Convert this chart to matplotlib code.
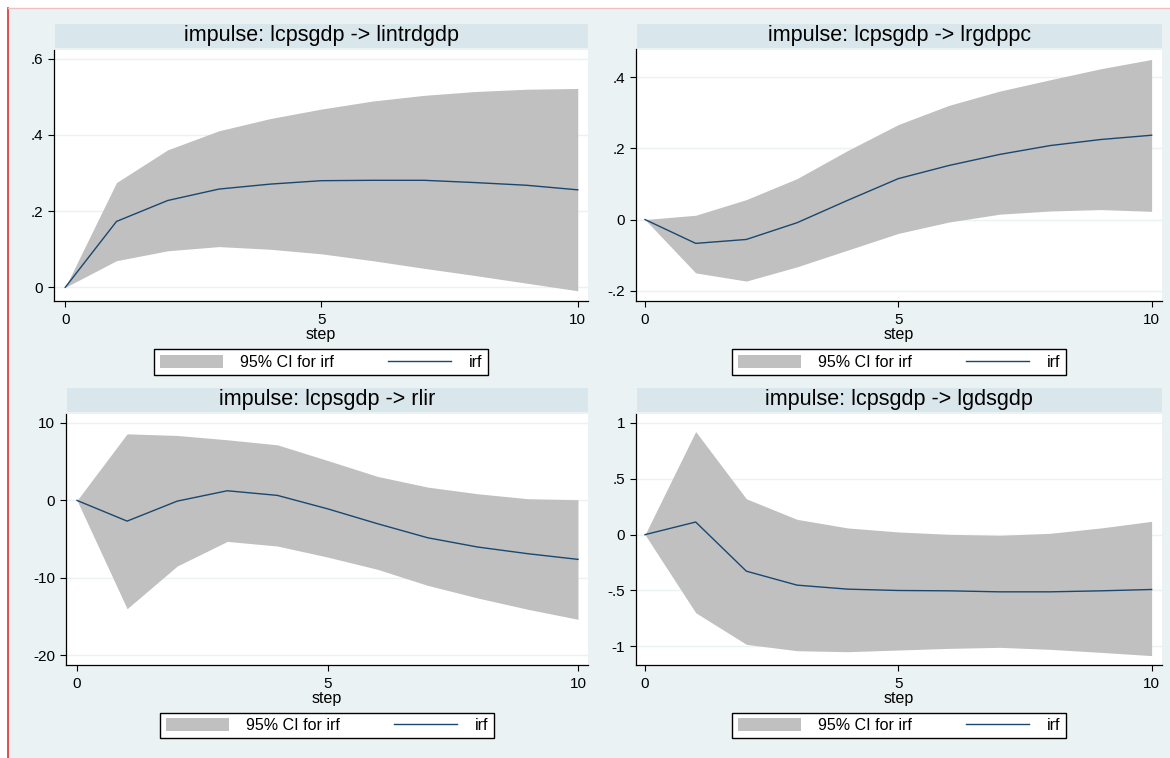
import matplotlib
matplotlib.use("Agg")
import matplotlib.pyplot as plt
from matplotlib.patches import Rectangle, Patch
from matplotlib.lines import Line2D
import matplotlib.ticker as mticker

plt.rcParams['font.family'] = ['Liberation Sans', 'DejaVu Sans']

# ---------------- data ----------------
steps = [0, 1, 2, 3, 4, 5, 6, 7, 8, 9, 10]

titles = [
    "impulse: lcpsgdp -> lintrdgdp",
    "impulse: lcpsgdp -> lrgdppc",
    "impulse: lcpsgdp -> rlir",
    "impulse: lcpsgdp -> lgdsgdp",
]

irf_lintrdgdp = [0, 0.173, 0.228, 0.258, 0.271, 0.280, 0.281, 0.281, 0.275, 0.268, 0.256]
lo_lintrdgdp = [0, 0.070, 0.096, 0.107, 0.100, 0.088, 0.070, 0.050, 0.031, 0.011, -0.009]
hi_lintrdgdp = [0, 0.275, 0.361, 0.411, 0.443, 0.468, 0.489, 0.504, 0.514, 0.520, 0.522]

irf_lrgdppc = [0, -0.067, -0.056, -0.009, 0.054, 0.115, 0.152, 0.183, 0.208, 0.225, 0.237]
lo_lrgdppc = [0, -0.150, -0.173, -0.133, -0.086, -0.039, -0.007, 0.015, 0.024, 0.028, 0.023]
hi_lrgdppc = [0, 0.012, 0.056, 0.115, 0.194, 0.267, 0.321, 0.361, 0.393, 0.424, 0.450]

irf_rlir = [0, -2.67, -0.09, 1.25, 0.65, -1.08, -3.01, -4.82, -6.02, -6.88, -7.61]
lo_rlir = [0, -13.98, -8.47, -5.29, -5.89, -7.31, -8.90, -10.97, -12.60, -14.06, -15.35]
hi_rlir = [0, 8.60, 8.39, 7.83, 7.18, 5.16, 3.10, 1.72, 0.86, 0.22, 0.09]

irf_lgdsgdp = [0, 0.113, -0.327, -0.452, -0.488, -0.500, -0.503, -0.512, -0.512, -0.503, -0.491]
lo_lgdsgdp = [0, -0.699, -0.982, -1.039, -1.048, -1.033, -1.018, -1.009, -1.027, -1.054, -1.083]
hi_lgdsgdp = [0, 0.923, 0.321, 0.137, 0.060, 0.024, 0.003, -0.006, 0.012, 0.060, 0.119]

xticks = [0, 5, 10]
yticks_lintrdgdp = [0, 0.2, 0.4, 0.6]
yticks_lrgdppc = [-0.2, 0, 0.2, 0.4]
yticks_rlir = [-20, -10, 0, 10]
yticks_lgdsgdp = [-1, -0.5, 0, 0.5, 1]

legend_labels = ["95% CI for irf", "irf"]
xlabel = "step"

# ---------------- style / layout ----------------
W, H = 1170, 758
BG = '#EAF2F3'
STRIP = '#D9E6EB'
CI = '#C0C0C0'
LINE = '#1A476F'

fig = plt.figure(figsize=(W / 100, H / 100), dpi=100)
fig.patch.set_facecolor('white')


def fx(px):
    return px / W


def fy(py):
    return 1 - py / H


fig.add_artist(Rectangle((fx(7.5), 0), 1 - fx(7.5), fy(7.5), transform=fig.transFigure,
                         facecolor=BG, edgecolor='none', zorder=-10))
fig.add_artist(Line2D([fx(7.5), fx(7.5)], [0, fy(7.5)], transform=fig.transFigure,
                      color='#E03030', lw=1.2, zorder=-9))
fig.add_artist(Line2D([fx(7.5), 1], [fy(7.5), fy(7.5)], transform=fig.transFigure,
                      color='#F2BFBF', lw=1.0, zorder=-9))


def stata_fmt(v, pos=None):
    v = round(v, 6)
    if abs(v) < 1e-9:
        return "0"
    s = ("%g" % v)
    if s.startswith("0."):
        s = s[1:]
    elif s.startswith("-0."):
        s = "-" + s[2:]
    return s


panels = [
    dict(box=(54, 50, 588, 300.7), strip=(55, 24, 588, 48), xlim=(-0.219, 10.2), ylim=(-0.035, 0.623),
         irf=irf_lintrdgdp, lo=lo_lintrdgdp, hi=hi_lintrdgdp, yt=yticks_lintrdgdp, title=titles[0]),
    dict(box=(636, 49.5, 1162, 301), strip=(636.5, 24, 1162, 48), xlim=(-0.178, 10.205), ylim=(-0.229, 0.478),
         irf=irf_lrgdppc, lo=lo_lrgdppc, hi=hi_lrgdppc, yt=yticks_lrgdppc, title=titles[1]),
    dict(box=(66, 414, 588, 665), strip=(66.5, 388, 588, 412), xlim=(-0.22, 10.2), ylim=(-21.25, 11.16),
         irf=irf_rlir, lo=lo_rlir, hi=hi_rlir, yt=yticks_rlir, title=titles[2]),
    dict(box=(636, 414, 1162, 665), strip=(636.5, 388, 1162, 412), xlim=(-0.178, 10.205), ylim=(-1.167, 1.08),
         irf=irf_lgdsgdp, lo=lo_lgdsgdp, hi=hi_lgdsgdp, yt=yticks_lgdsgdp, title=titles[3]),
]

legend_tops = [349.3, 349.3, 712.5, 712.5]

for p, ltop in zip(panels, legend_tops):
    l, t, r, b = p['box']
    ax = fig.add_axes([fx(l), fy(b), (r - l) / W, (b - t) / H])
    ax.set_facecolor('white')
    ax.fill_between(steps, p['lo'], p['hi'], color=CI, linewidth=0, zorder=2)
    ax.plot(steps, p['irf'], color=LINE, lw=1.0, zorder=3)
    ax.set_xlim(*p['xlim'])
    ax.set_ylim(*p['ylim'])
    ax.set_xticks(xticks)
    ax.set_yticks(p['yt'])
    ax.yaxis.set_major_formatter(mticker.FuncFormatter(stata_fmt))
    ax.grid(axis='y', color=BG, lw=1.0, zorder=0)
    ax.set_axisbelow(True)
    for s in ('top', 'right'):
        ax.spines[s].set_visible(False)
    for s in ('left', 'bottom'):
        ax.spines[s].set_color('black')
        ax.spines[s].set_linewidth(0.9)
    ax.tick_params(axis='both', direction='out', length=4.3, width=0.8, labelsize=11,
                   colors='black', pad=3.5)
    ax.tick_params(axis='x', pad=4.5)
    ax.set_xlabel(xlabel, fontsize=11.5, labelpad=0)

    # title strip
    sl, st, sr, sb = p['strip']
    fig.add_artist(Rectangle((fx(sl), fy(sb)), (sr - sl) / W, (sb - st) / H,
                             transform=fig.transFigure, facecolor=STRIP, edgecolor='none', zorder=-5))
    fig.text(fx((sl + sr) / 2), fy((st + sb) / 2), p['title'], ha='center', va='center',
             fontsize=15.5, color='black')

    # legend
    handles = [Patch(facecolor=CI, edgecolor='none'), Line2D([], [], color=LINE, lw=1.0)]
    leg = fig.legend(handles, legend_labels, loc='upper center',
                     bbox_to_anchor=(fx((l + r) / 2), fy(ltop)), bbox_transform=fig.transFigure,
                     ncol=2, frameon=True, fancybox=False, edgecolor='black', facecolor='white',
                     framealpha=1, fontsize=11.5, handlelength=3.95, handleheight=0.9,
                     handletextpad=1.1, columnspacing=3.4, borderpad=0.33, borderaxespad=0)
    leg.get_frame().set_linewidth(1.0)

fig.savefig("out.png", dpi=100, facecolor=fig.get_facecolor())
